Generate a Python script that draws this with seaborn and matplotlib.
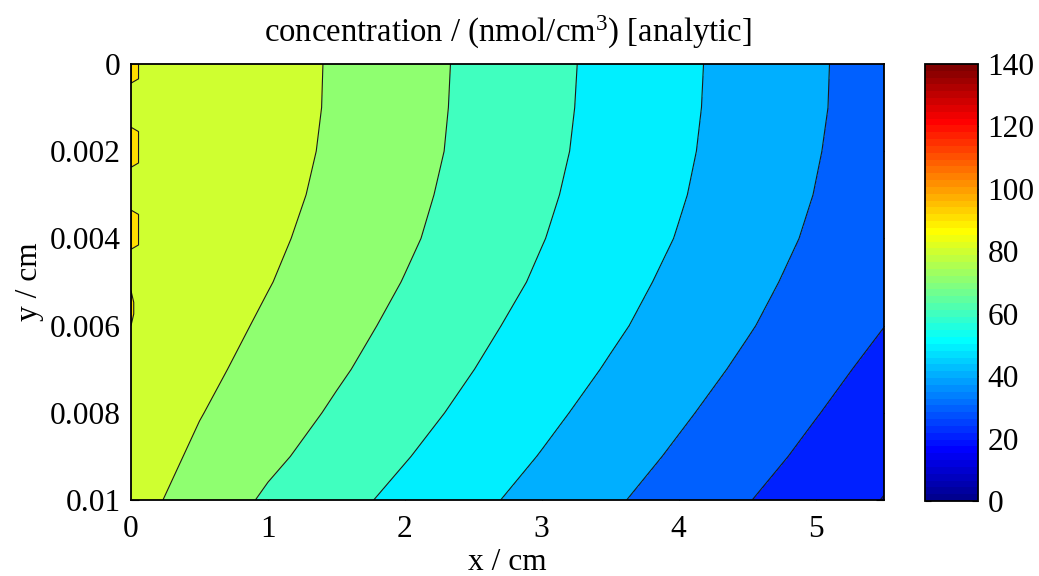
import numpy as np
import matplotlib
matplotlib.use("Agg")
import matplotlib.pyplot as plt
from matplotlib.colors import ListedColormap, Normalize
from matplotlib.cm import ScalarMappable
import seaborn as sns

# ---------------- data ----------------
x_cm = [0.0, 0.1, 0.5, 1.0, 1.5, 2.0, 2.5, 3.0, 3.5, 4.0, 4.5, 5.0, 5.5]
y_cm = [0.000, 0.001, 0.002, 0.003, 0.004, 0.005, 0.006, 0.007, 0.008, 0.009, 0.010]

# concentration (nmol/cm^3) along each row y = const, at the x_cm positions
conc_y000 = [89.6, 89.8, 87.9, 84.1, 79.0, 73.6, 68.2, 62.8, 57.4, 52.0, 46.5, 41.1, 35.7]
conc_y001 = [89.4, 89.8, 87.9, 84.0, 78.9, 73.5, 68.0, 62.6, 57.2, 51.8, 46.4, 41.0, 35.5]
conc_y002 = [89.6, 89.8, 87.7, 83.6, 78.5, 73.1, 67.7, 62.2, 56.8, 51.4, 46.0, 40.5, 35.1]
conc_y003 = [89.4, 89.7, 87.2, 82.9, 77.7, 72.3, 66.9, 61.4, 56.0, 50.7, 45.2, 39.8, 34.3]
conc_y004 = [89.6, 89.5, 86.5, 81.8, 76.5, 71.3, 65.8, 60.3, 55.0, 49.6, 44.1, 38.7, 33.3]
conc_y005 = [89.6, 89.0, 85.5, 80.4, 75.1, 69.7, 64.2, 58.8, 53.4, 47.9, 42.5, 37.1, 31.6]
conc_y006 = [89.6, 88.4, 84.0, 78.6, 73.2, 67.8, 62.2, 56.8, 51.5, 46.1, 40.7, 35.2, 30.1]
conc_y007 = [89.0, 87.3, 82.3, 76.7, 71.2, 65.7, 60.1, 54.7, 49.2, 43.8, 38.4, 32.9, 27.5]
conc_y008 = [88.0, 85.8, 80.4, 74.5, 68.8, 63.2, 57.7, 52.2, 46.7, 41.3, 35.9, 30.4, 25.0]
conc_y009 = [86.5, 84.0, 78.3, 71.9, 66.1, 60.5, 55.0, 49.6, 44.1, 38.7, 33.3, 27.8, 22.4]
conc_y010 = [85.0, 82.1, 75.8, 68.7, 63.0, 57.5, 52.2, 46.7, 41.3, 35.9, 30.4, 25.0, 19.7]

# small regions above 90 nmol/cm^3 along the x = 0 edge (series ripple)
ripple_y_start = [0.0, 0.00145, 0.00335, 0.0052]
ripple_y_end = [0.00044, 0.00237, 0.00425, 0.0060]
ripple_width = [0.055, 0.055, 0.055, 0.02]
ripple_level = 90

contour_levels = [10, 20, 30, 40, 50, 60, 70, 80, 90, 100]
color_limits = [0, 140]
cbar_ticks = [0, 20, 40, 60, 80, 100, 120, 140]
x_ticks = [0, 1, 2, 3, 4, 5]
y_ticks = [0.0, 0.002, 0.004, 0.006, 0.008, 0.01]
y_tick_labels = ["0", "0.002", "0.004", "0.006", "0.008", "0.01"]
title_text = r"concentration / (nmol/cm$^3$) [analytic]"
x_label = "x / cm"
y_label = "y / cm"

# ---------------- style ----------------
sns.set_theme(style="white")
plt.rcParams["font.family"] = ["Liberation Serif", "DejaVu Serif"]
plt.rcParams["mathtext.fontset"] = "custom"
plt.rcParams["mathtext.rm"] = "Liberation Serif"
plt.rcParams["mathtext.it"] = "Liberation Serif:italic"
plt.rcParams["mathtext.bf"] = "Liberation Serif:bold"
for k in ["text.color", "axes.labelcolor", "xtick.color", "ytick.color", "axes.edgecolor"]:
    plt.rcParams[k] = "black"
FS = 22.6
FS_TITLE = 23.6

# MATLAB-style jet(64)
i = np.arange(1, 65)
r = np.clip(np.minimum((i - 24) / 16, (72 - i) / 16), 0, 1)
g = np.clip(np.minimum((i - 8) / 16, (56 - i) / 16), 0, 1)
b = np.clip(np.minimum((i + 8) / 16, (40 - i) / 16), 0, 1)
jet64 = ListedColormap(np.column_stack([r, g, b]))
norm = Normalize(color_limits[0], color_limits[1])

def band_color(level):
    k = int((level - color_limits[0]) / (color_limits[1] - color_limits[0]) * 64)
    return jet64(min(max(k, 0), 63))

band_colors = [band_color(L) for L in contour_levels[:-1]]

X, Y = np.meshgrid(np.array(x_cm), np.array(y_cm))
C = np.array([conc_y000, conc_y001, conc_y002, conc_y003, conc_y004, conc_y005,
              conc_y006, conc_y007, conc_y008, conc_y009, conc_y010])

W, H = 1039, 576
fig = plt.figure(figsize=(W / 100, H / 100), dpi=100)
ax = fig.add_axes([131 / W, 76 / H, 753 / W, 436 / H])
cax = fig.add_axes([925 / W, 75 / H, 53 / W, 437 / H])

ax.contourf(X, Y, C, levels=contour_levels, colors=band_colors)
ax.contour(X, Y, C, levels=contour_levels, colors="k", linewidths=0.8)

# ripple patches (above 90) hugging the x = 0 edge
for y0, y1, w in zip(ripple_y_start, ripple_y_end, ripple_width):
    ch = min(0.0001, (y1 - y0) / 3) if w > 0.03 else (y1 - y0) / 3
    top_c = 0.0 if y0 == 0 else ch
    xs = [0, w, w, 0]
    ys = [y0, y0 + top_c, y1 - ch, y1]
    ax.fill(xs, ys, facecolor=band_color(ripple_level), edgecolor="k",
            linewidth=0.8, zorder=3)

ax.set_xlim(0, 5.5)
ax.set_ylim(0.01, 0)
ax.set_xticks(x_ticks)
ax.set_xticklabels([str(t) for t in x_ticks])
ax.set_yticks(y_ticks)
ax.set_yticklabels(y_tick_labels)
ax.tick_params(which="both", direction="in", length=5.5, width=0.8,
               top=True, right=True, bottom=True, left=True,
               labelsize=FS, colors="black")
ax.tick_params(axis="x", pad=11)
ax.tick_params(axis="y", pad=7.5)
for s in ax.spines.values():
    s.set_linewidth(1.3)
    s.set_color("black")
    s.set_zorder(5)
ax.set_title(title_text, fontsize=FS_TITLE, pad=16)
ax.set_xlabel(x_label, fontsize=FS, labelpad=3)
ax.set_ylabel(y_label, fontsize=FS, labelpad=4)

sm = ScalarMappable(norm=norm, cmap=jet64)
cb = fig.colorbar(sm, cax=cax, ticks=cbar_ticks)
cb.outline.set_linewidth(1.3)
cb.outline.set_edgecolor("black")
cax.tick_params(which="both", direction="in", length=4, width=0.8,
                left=True, right=True, labelleft=False, labelright=True,
                labelsize=FS, pad=7, colors="black")
cax.set_yticklabels([str(t) for t in cbar_ticks])

fig.savefig("out.png", dpi=100)
